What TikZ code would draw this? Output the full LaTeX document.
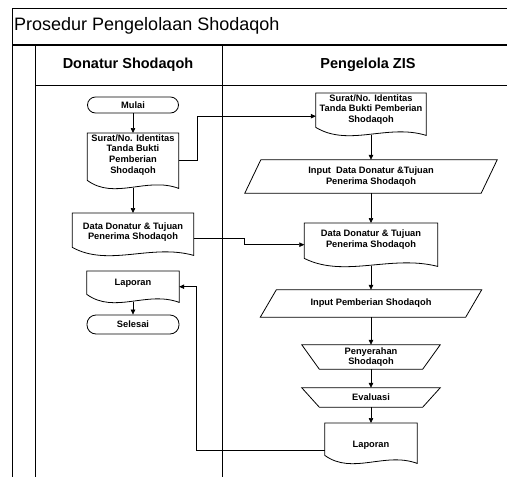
\documentclass[tikz,border=0pt]{standalone}
\usepackage{fontspec}
\setmainfont{Liberation Sans}
\usetikzlibrary{calc,arrows.meta}
\tikzset{
  frameline/.style={line width=0.9pt},
  shapeline/.style={line width=0.8pt},
  arr/.style={line width=0.7pt, -{Triangle[length=5pt,width=4.5pt]}},
  txt/.style={font=\bfseries\fontsize{9.3}{10.6}\selectfont, align=center, inner sep=0pt},
  plainbox/.style={rectangle, inner sep=0pt, draw=none},
  term/.style={rectangle, draw, shapeline, rounded corners=8pt, inner sep=0pt, txt},
}
\newcommand\docnode[7]{%
  \node[plainbox, minimum width=#4pt, minimum height=#5pt, anchor=north] (#1) at (#2,#3) {};
  \draw[shapeline] (#1.north west) -- (#1.north east) -- (#1.south east)
    .. controls ($(#1.south west)!0.65!(#1.south east)+(0,-12)$) and ($(#1.south west)!0.3!(#1.south east)+(0,12)$) .. ($(#1.south west)+(0,-8)$) -- cycle;
  \node[txt] (#1-t) at ($(#1.center)+(0,#6)$) {#7};
}
\newcommand\paral[2]{\draw[shapeline] ($(#1.south west)+(-#2,0)$) -- ($(#1.north west)+(#2,0)$) -- ($(#1.north east)+(#2,0)$) -- ($(#1.south east)+(-#2,0)$) -- cycle;}
\newcommand\manop[2]{\draw[shapeline] (#1.north west) -- (#1.north east) -- ($(#1.south east)+(-#2,0)$) -- ($(#1.south west)+(#2,0)$) -- cycle;}
\begin{document}
\begin{tikzpicture}[x=1pt,y=-1pt]
\useasboundingbox (0,0) rectangle (507,477);
\fill[white] (0,0) rectangle (507,477);
% frame
\draw[frameline] (507,8) -- (12,8) -- (12,477);
\draw[line width=1.2pt] (12,45) -- (507,45);
\draw[frameline] (35,45) -- (35,477);
\draw[frameline] (35,85) -- (507,85);
\draw[frameline] (222,45) -- (222,477);
% titles
\node[anchor=west, font=\fontsize{18}{20}\selectfont, inner sep=0pt] (title) at (14,26) {Prosedur Pengelolaan Shodaqoh};
\node[font=\bfseries\fontsize{14.5}{16}\selectfont, inner sep=0pt] (h1) at (128,65) {Donatur Shodaqoh};
\node[font=\bfseries\fontsize{14.5}{16}\selectfont, inner sep=0pt] (h2) at (368,65) {Pengelola ZIS};
% left lane
\node[term, minimum width=91pt, minimum height=16pt] (mulai) at (133,105) {Mulai};
\docnode{sL}{133}{133}{91}{55}{-6}{Surat/No. Identitas\\Tanda Bukti\\Pemberian\\Shodaqoh}
\docnode{dL}{133}{213}{121}{42}{-2}{Data Donatur \& Tujuan\\Penerima Shodaqoh}
\docnode{lL}{133}{271}{92}{31}{-3.5}{Laporan}
\node[term, minimum width=92pt, minimum height=19pt, rounded corners=9pt] (selesai) at (133,324.5) {Selesai};
% right lane
\docnode{sR}{371}{93}{110}{42}{-5}{Surat/No. Identitas\\Tanda Bukti Pemberian\\Shodaqoh}
\node[plainbox, txt, minimum width=236pt, minimum height=33pt] (iD) at (371,176.5) {Input~ Data Donatur \&Tujuan\\Penerima Shodaqoh};
\paral{iD}{8}
\docnode{dR}{371}{223}{133}{43}{-5}{Data Donatur \& Tujuan\\Penerima Shodaqoh}
\node[plainbox, txt, minimum width=205pt, minimum height=27pt] (iP) at (371,303.5) {Input Pemberian Shodaqoh};
\paral{iP}{8}
\node[plainbox, txt, minimum width=138pt, minimum height=24pt] (pny) at (371,357) {Penyerahan\\Shodaqoh};
\manop{pny}{17.5}
\node[plainbox, txt, minimum width=138pt, minimum height=19pt] (eval) at (371,397.5) {Evaluasi};
\manop{eval}{17.5}
\docnode{lR}{371}{423}{92}{40}{2}{Laporan}
% connectors
\draw[arr] (mulai) -- (sL);
\draw[arr] (sL.south) -- (dL.north);
\draw[arr] (lL.south) -- (selesai);
\draw[arr] (sR.south) -- (iD);
\draw[arr] (iD) -- (dR.north);
\draw[arr] (dR.south) -- (iP);
\draw[arr] (iP) -- (pny);
\draw[arr] (pny) -- (eval);
\draw[arr] (eval) -- (lR.north);
\draw[arr] (sL.east) -- ++(19,0) |- ($(sR.west)+(0,2)$);
\draw[arr] ($(dL.east)+(0,4)$) -- ++(51,0) |- (dR.west);
\draw[arr] ($(lR.west)+(0,7)$) -| ($(lL.east)+(17,0)$) -- (lL.east);
\end{tikzpicture}
\end{document}
